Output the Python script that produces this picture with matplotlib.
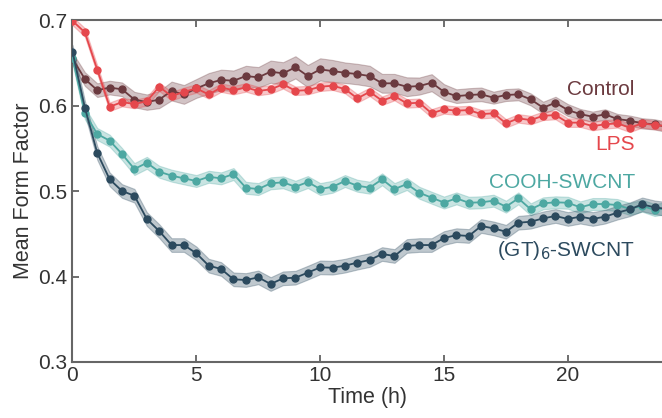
import matplotlib
matplotlib.use("Agg")
import matplotlib.pyplot as plt
import numpy as np

plt.rcParams["font.family"] = ["Liberation Sans", "DejaVu Sans"]

# Zeitachse: ein Punkt pro halbe Stunde
time_h = np.arange(0, 24.01, 0.5)

control = [0.655, 0.631, 0.618, 0.621, 0.619, 0.607, 0.604, 0.607, 0.617, 0.613,
           0.620, 0.626, 0.630, 0.629, 0.6345, 0.633, 0.6396, 0.6377, 0.6447, 0.6345,
           0.6423, 0.6403, 0.6384, 0.6368, 0.6345, 0.626, 0.626, 0.622, 0.6228, 0.6267,
           0.616, 0.611, 0.6123, 0.6131, 0.6092, 0.6123, 0.6131, 0.6072, 0.5975, 0.6033,
           0.5947, 0.590, 0.5869, 0.5897, 0.5842, 0.5823, 0.5792, 0.578, 0.575]
control_err = [0.007, 0.008, 0.008, 0.008, 0.008, 0.009, 0.009, 0.010, 0.011, 0.011,
               0.011, 0.012, 0.012, 0.012, 0.012, 0.012, 0.013, 0.013, 0.013, 0.013,
               0.013, 0.013, 0.012, 0.012, 0.012, 0.011, 0.011, 0.011, 0.010, 0.010,
               0.009, 0.008, 0.008, 0.008, 0.007, 0.007, 0.007, 0.007, 0.007, 0.007,
               0.007, 0.006, 0.006, 0.006, 0.006, 0.006, 0.006, 0.006, 0.006]

lps = [0.699, 0.6856, 0.642, 0.5986, 0.604, 0.6018, 0.605, 0.622, 0.611, 0.616,
       0.620, 0.613, 0.621, 0.618, 0.6212, 0.617, 0.619, 0.6248, 0.6173, 0.618,
       0.622, 0.6232, 0.6193, 0.6084, 0.616, 0.6057, 0.611, 0.6025, 0.6033, 0.5909,
       0.5955, 0.594, 0.5947, 0.590, 0.5909, 0.5792, 0.585, 0.583, 0.588, 0.5889,
       0.580, 0.580, 0.576, 0.578, 0.5792, 0.574, 0.5792, 0.5772, 0.576]
lps_err = 0.005

cooh = [0.656, 0.591, 0.5667, 0.5589, 0.5433, 0.5257, 0.533, 0.5226, 0.518, 0.5148,
        0.5117, 0.5167, 0.5148, 0.5199, 0.5038, 0.5023, 0.509, 0.5102, 0.505, 0.5105,
        0.5023, 0.505, 0.5117, 0.5062, 0.5039, 0.5137, 0.5023, 0.5082, 0.498, 0.4922,
        0.4865, 0.4914, 0.4863, 0.4868, 0.4887, 0.4817, 0.4914, 0.4786, 0.4856, 0.4868,
        0.4863, 0.4809, 0.4848, 0.4848, 0.4836, 0.479, 0.4828, 0.4778, 0.480]
cooh_err = 0.007

gt6 = [0.663, 0.5975, 0.5445, 0.5137, 0.500, 0.4945, 0.4673, 0.4532, 0.4368, 0.4368,
       0.4271, 0.4127, 0.4088, 0.3967, 0.3959, 0.399, 0.3912, 0.3979, 0.3986, 0.4045,
       0.4107, 0.4103, 0.4127, 0.4162, 0.4193, 0.4263, 0.424, 0.4357, 0.4368, 0.4368,
       0.445, 0.4484, 0.4474, 0.4591, 0.4563, 0.4524, 0.4629, 0.4641, 0.468, 0.4708,
       0.4673, 0.470, 0.4673, 0.470, 0.4747, 0.4786, 0.4844, 0.4809, 0.479]
gt6_err = 0.008

series = [
    ("Control", control, control_err, "#6b3a3f"),
    ("LPS", lps, lps_err, "#e5474c"),
    ("COOH-SWCNT", cooh, cooh_err, "#4da8a2"),
    ("(GT)$_6$-SWCNT", gt6, gt6_err, "#2c4a5e"),
]
label_y = [0.619, 0.554, 0.5094, 0.431]

fig = plt.figure(figsize=(6.62, 4.18), dpi=100)
ax = fig.add_axes([0.1095, 0.134, 0.8905, 0.818])

for (name, vals, err, col), ly in zip(series, label_y):
    v = np.array(vals)
    e = np.array(err) if np.ndim(err) else np.full_like(v, err)
    ax.fill_between(time_h, v - e, v + e, color=col, alpha=0.3, lw=0.8,
                    edgecolor=col)
    ax.plot(time_h, v, color=col, lw=1.3, marker="o", ms=5, zorder=3)
    ax.text(22.7, ly, name, color=col, fontsize=15, ha="right", va="center")

ax.set_xlim(0, 23.8)
ax.set_ylim(0.3, 0.7)
ax.set_xticks([0, 5, 10, 15, 20])
ax.set_yticks([0.3, 0.4, 0.5, 0.6, 0.7])
ax.set_yticklabels(["0.3", "0.4", "0.5", "0.6", "0.7"])
ax.tick_params(direction="in", length=5, width=1.2, color="#555555",
               labelsize=15, labelcolor="#333333", top=True)
ax.tick_params(axis="y", pad=4)
ax.tick_params(axis="x", pad=3)
for s in ["left", "bottom", "top"]:
    ax.spines[s].set_color("#666666")
    ax.spines[s].set_linewidth(1.5)
ax.spines["right"].set_visible(False)

ax.set_xlabel("Time (h)", fontsize=15.5, color="#333333", labelpad=1)
ax.set_ylabel("Mean Form Factor", fontsize=15.5, color="#333333", labelpad=3)

fig.savefig("out.png", dpi=100)
